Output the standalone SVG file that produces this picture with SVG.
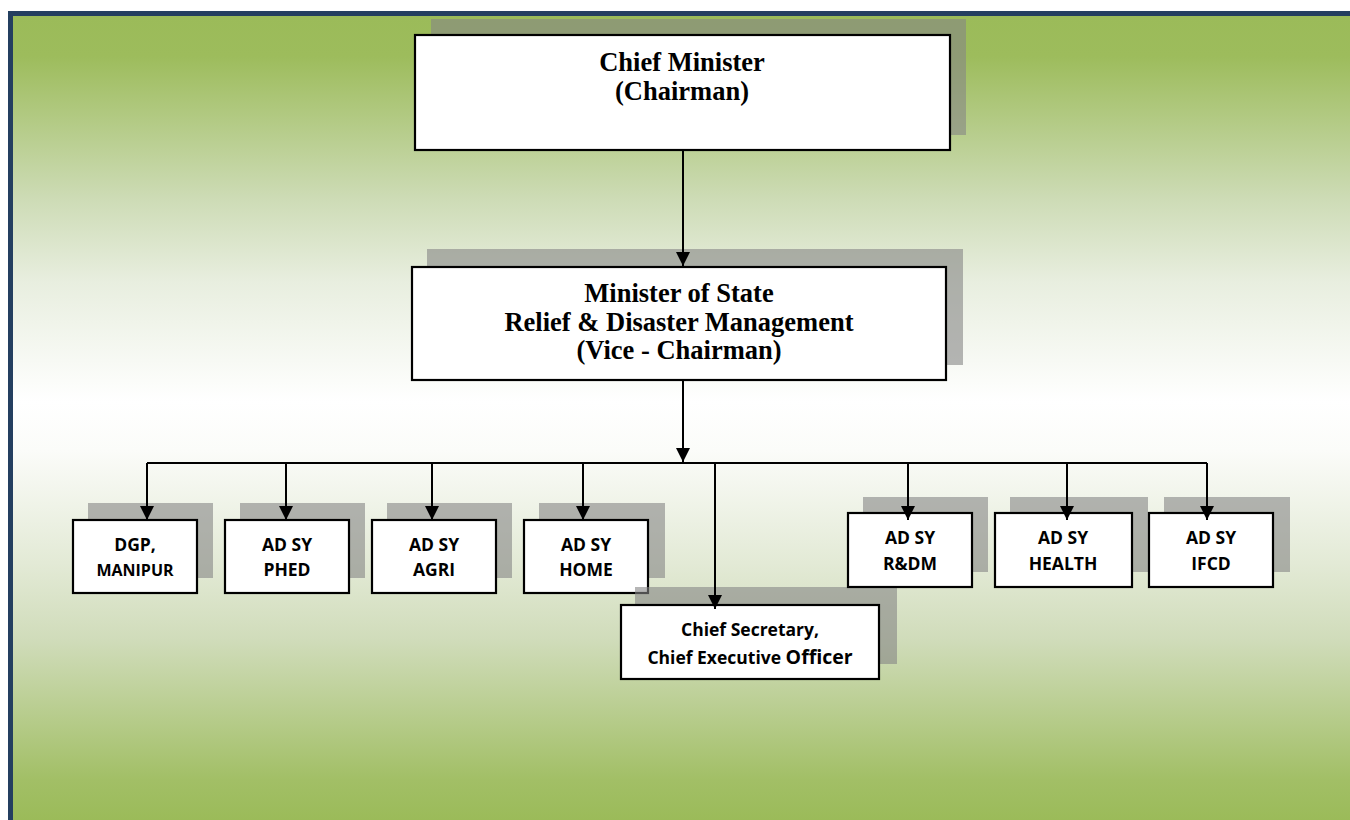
<svg xmlns="http://www.w3.org/2000/svg" width="1350" height="820" viewBox="0 0 1350 820">
  <defs>
    <linearGradient id="bg" x1="0" y1="16" x2="0" y2="820" gradientUnits="userSpaceOnUse">
      <stop offset="0" stop-color="#9bbb59"/>
      <stop offset="0.05" stop-color="#9dbc5c"/>
      <stop offset="0.23" stop-color="#cedcb7"/>
      <stop offset="0.33" stop-color="#e8eedf"/>
      <stop offset="0.48" stop-color="#ffffff"/>
      <stop offset="0.54" stop-color="#fbfcf9"/>
      <stop offset="0.68" stop-color="#e3ead6"/>
      <stop offset="0.776" stop-color="#d0dcba"/>
      <stop offset="0.95" stop-color="#a2bf66"/>
      <stop offset="1" stop-color="#9bbb59"/>
    </linearGradient>
    <marker id="arrow" viewBox="0 0 14 14" refX="14" refY="7" markerWidth="14" markerHeight="14" markerUnits="userSpaceOnUse" orient="auto">
      <path d="M0,0 L14,7 L0,14 Z" fill="#000"/>
    </marker>
    <style>
      .shadow { fill: #868686; fill-opacity: 0.6; }
      .box { fill: #ffffff; stroke: #000000; stroke-width: 2.2; }
      .serif { font-family: "Liberation Serif", "Times New Roman", serif; font-weight: bold; font-size: 26.5px; fill: #000; text-anchor: middle; }
      .sans { font-family: "Open Sans", "Liberation Sans", sans-serif; font-weight: bold; font-size: 17.5px; fill: #000; text-anchor: middle; }
      .small { font-size: 16px; }
      .wire { fill: none; stroke: #000; stroke-width: 2; }
    </style>
  </defs>

  <!-- page background and frame -->
  <rect x="0" y="0" width="1350" height="820" fill="#ffffff"/>
  <rect x="8" y="11" width="1342" height="809" fill="url(#bg)"/>
  <rect x="8" y="11" width="1342" height="5" fill="#243f60"/>
  <rect x="8" y="11" width="5" height="809" fill="#243f60"/>

  <g id="chief-minister">
    <rect class="shadow" x="431" y="19" width="535" height="116"/>
    <rect class="box" x="415" y="35" width="535" height="115"/>
    <text class="serif" x="682" y="71">Chief Minister</text>
    <text class="serif" x="682" y="100">(Chairman)</text>
  </g>

  <g id="minister-of-state">
    <rect class="shadow" x="427" y="249" width="536" height="116"/>
    <rect class="box" x="412" y="267" width="534" height="113"/>
    <text class="serif" x="679" y="302">Minister of State</text>
    <text class="serif" x="679" y="331">Relief &amp; Disaster Management</text>
    <text class="serif" x="679" y="359">(Vice - Chairman)</text>
  </g>

  <g id="dgp">
    <rect class="shadow" x="88" y="503" width="125" height="75"/>
    <rect class="box" x="73" y="520" width="124" height="73"/>
    <text class="sans" x="135" y="551">DGP,</text>
    <text class="sans small" x="135" y="576">MANIPUR</text>
  </g>

  <g id="ad-phed">
    <rect class="shadow" x="240" y="503" width="125" height="75"/>
    <rect class="box" x="225" y="520" width="124" height="73"/>
    <text class="sans" x="287" y="551">AD SY</text>
    <text class="sans" x="287" y="576">PHED</text>
  </g>

  <g id="ad-agri">
    <rect class="shadow" x="387" y="503" width="125" height="75"/>
    <rect class="box" x="372" y="520" width="124" height="73"/>
    <text class="sans" x="434" y="551">AD SY</text>
    <text class="sans" x="434" y="576">AGRI</text>
  </g>

  <g id="ad-home">
    <rect class="shadow" x="539" y="503" width="126" height="75"/>
    <rect class="box" x="524" y="520" width="124" height="73"/>
    <text class="sans" x="586" y="551">AD SY</text>
    <text class="sans" x="586" y="576">HOME</text>
  </g>

  <g id="chief-secretary">
    <rect class="shadow" x="635" y="587" width="262" height="77"/>
    <rect class="box" x="621" y="605" width="258" height="74"/>
    <text class="sans" x="750" y="636">Chief Secretary,</text>
    <text class="sans" x="750" y="664">Chief Executive <tspan font-size="19.5">Officer</tspan></text>
  </g>

  <g id="ad-rdm">
    <rect class="shadow" x="863" y="497" width="125" height="75"/>
    <rect class="box" x="848" y="513" width="124" height="74"/>
    <text class="sans" x="910" y="544">AD SY</text>
    <text class="sans" x="910" y="570">R&amp;DM</text>
  </g>

  <g id="ad-health">
    <rect class="shadow" x="1010" y="497" width="138" height="75"/>
    <rect class="box" x="995" y="513" width="137" height="74"/>
    <text class="sans" x="1063" y="544">AD SY</text>
    <text class="sans" x="1063" y="570">HEALTH</text>
  </g>

  <g id="ad-ifcd">
    <rect class="shadow" x="1164" y="497" width="126" height="75"/>
    <rect class="box" x="1149" y="513" width="124" height="74"/>
    <text class="sans" x="1211" y="544">AD SY</text>
    <text class="sans" x="1211" y="570">IFCD</text>
  </g>

  <g id="connectors">
    <path class="wire" d="M683,150 V266" marker-end="url(#arrow)"/>
    <path class="wire" d="M683,380 V462" marker-end="url(#arrow)"/>
    <path class="wire" d="M147,463 H1207"/>
    <path class="wire" d="M147,463 V520" marker-end="url(#arrow)"/>
    <path class="wire" d="M286,463 V520" marker-end="url(#arrow)"/>
    <path class="wire" d="M432,463 V520" marker-end="url(#arrow)"/>
    <path class="wire" d="M583,463 V520" marker-end="url(#arrow)"/>
    <path class="wire" d="M715,463 V609" marker-end="url(#arrow)"/>
    <path class="wire" d="M908,463 V520" marker-end="url(#arrow)"/>
    <path class="wire" d="M1067,463 V520" marker-end="url(#arrow)"/>
    <path class="wire" d="M1207,463 V520" marker-end="url(#arrow)"/>
  </g>
</svg>
